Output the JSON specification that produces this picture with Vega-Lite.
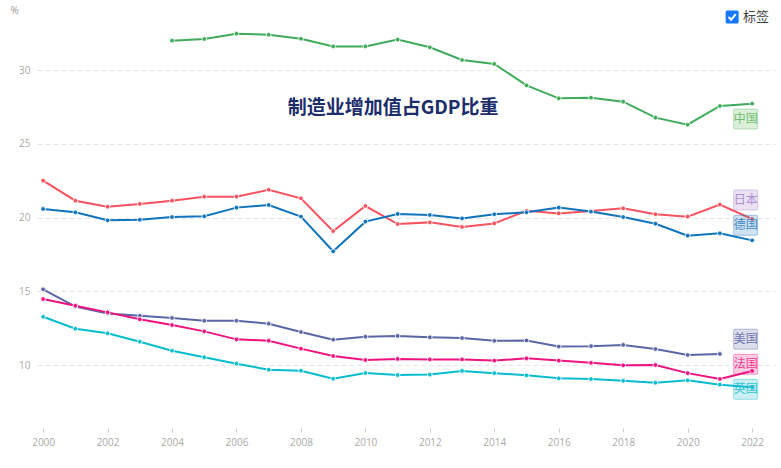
{
  "$schema": "https://vega.github.io/schema/vega-lite/v6.json",
  "autosize": "none",
  "width": 738,
  "height": 408,
  "padding": {"left": 37, "top": 20, "right": 6, "bottom": 40},
  "background": "white",
  "config": {"view": {"stroke": null}, "font": "Open Sans"},
  "datasets": {
    "series": [
      {"country": "中国", "year": 2004, "value": 31.99},
      {"country": "中国", "year": 2005, "value": 32.1},
      {"country": "中国", "year": 2006, "value": 32.46},
      {"country": "中国", "year": 2007, "value": 32.39},
      {"country": "中国", "year": 2008, "value": 32.12},
      {"country": "中国", "year": 2009, "value": 31.6},
      {"country": "中国", "year": 2010, "value": 31.6},
      {"country": "中国", "year": 2011, "value": 32.06},
      {"country": "中国", "year": 2012, "value": 31.54},
      {"country": "中国", "year": 2013, "value": 30.68},
      {"country": "中国", "year": 2014, "value": 30.41},
      {"country": "中国", "year": 2015, "value": 28.96},
      {"country": "中国", "year": 2016, "value": 28.08},
      {"country": "中国", "year": 2017, "value": 28.12},
      {"country": "中国", "year": 2018, "value": 27.85},
      {"country": "中国", "year": 2019, "value": 26.77},
      {"country": "中国", "year": 2020, "value": 26.29},
      {"country": "中国", "year": 2021, "value": 27.56},
      {"country": "中国", "year": 2022, "value": 27.72},
      {"country": "日本", "year": 2000, "value": 22.5},
      {"country": "日本", "year": 2001, "value": 21.14},
      {"country": "日本", "year": 2002, "value": 20.73},
      {"country": "日本", "year": 2003, "value": 20.92},
      {"country": "日本", "year": 2004, "value": 21.14},
      {"country": "日本", "year": 2005, "value": 21.41},
      {"country": "日本", "year": 2006, "value": 21.41},
      {"country": "日本", "year": 2007, "value": 21.88},
      {"country": "日本", "year": 2008, "value": 21.3},
      {"country": "日本", "year": 2009, "value": 19.08},
      {"country": "日本", "year": 2010, "value": 20.78},
      {"country": "日本", "year": 2011, "value": 19.56},
      {"country": "日本", "year": 2012, "value": 19.67},
      {"country": "日本", "year": 2013, "value": 19.36},
      {"country": "日本", "year": 2014, "value": 19.6},
      {"country": "日本", "year": 2015, "value": 20.46},
      {"country": "日本", "year": 2016, "value": 20.28},
      {"country": "日本", "year": 2017, "value": 20.44},
      {"country": "日本", "year": 2018, "value": 20.62},
      {"country": "日本", "year": 2019, "value": 20.22},
      {"country": "日本", "year": 2020, "value": 20.06},
      {"country": "日本", "year": 2021, "value": 20.87},
      {"country": "日本", "year": 2022, "value": 19.9},
      {"country": "德国", "year": 2000, "value": 20.58},
      {"country": "德国", "year": 2001, "value": 20.35},
      {"country": "德国", "year": 2002, "value": 19.81},
      {"country": "德国", "year": 2003, "value": 19.85},
      {"country": "德国", "year": 2004, "value": 20.03},
      {"country": "德国", "year": 2005, "value": 20.08},
      {"country": "德国", "year": 2006, "value": 20.67},
      {"country": "德国", "year": 2007, "value": 20.85},
      {"country": "德国", "year": 2008, "value": 20.06},
      {"country": "德国", "year": 2009, "value": 17.71},
      {"country": "德国", "year": 2010, "value": 19.72},
      {"country": "德国", "year": 2011, "value": 20.24},
      {"country": "德国", "year": 2012, "value": 20.17},
      {"country": "德国", "year": 2013, "value": 19.94},
      {"country": "德国", "year": 2014, "value": 20.22},
      {"country": "德国", "year": 2015, "value": 20.35},
      {"country": "德国", "year": 2016, "value": 20.67},
      {"country": "德国", "year": 2017, "value": 20.4},
      {"country": "德国", "year": 2018, "value": 20.03},
      {"country": "德国", "year": 2019, "value": 19.58},
      {"country": "德国", "year": 2020, "value": 18.77},
      {"country": "德国", "year": 2021, "value": 18.93},
      {"country": "德国", "year": 2022, "value": 18.45},
      {"country": "美国", "year": 2000, "value": 15.13},
      {"country": "美国", "year": 2001, "value": 13.96},
      {"country": "美国", "year": 2002, "value": 13.5},
      {"country": "美国", "year": 2003, "value": 13.34},
      {"country": "美国", "year": 2004, "value": 13.19},
      {"country": "美国", "year": 2005, "value": 13.0},
      {"country": "美国", "year": 2006, "value": 13.0},
      {"country": "美国", "year": 2007, "value": 12.8},
      {"country": "美国", "year": 2008, "value": 12.24},
      {"country": "美国", "year": 2009, "value": 11.72},
      {"country": "美国", "year": 2010, "value": 11.92},
      {"country": "美国", "year": 2011, "value": 11.97},
      {"country": "美国", "year": 2012, "value": 11.88},
      {"country": "美国", "year": 2013, "value": 11.83},
      {"country": "美国", "year": 2014, "value": 11.64},
      {"country": "美国", "year": 2015, "value": 11.66},
      {"country": "美国", "year": 2016, "value": 11.25},
      {"country": "美国", "year": 2017, "value": 11.28},
      {"country": "美国", "year": 2018, "value": 11.36},
      {"country": "美国", "year": 2019, "value": 11.08},
      {"country": "美国", "year": 2020, "value": 10.68},
      {"country": "美国", "year": 2021, "value": 10.75},
      {"country": "法国", "year": 2000, "value": 14.47},
      {"country": "法国", "year": 2001, "value": 14.02},
      {"country": "法国", "year": 2002, "value": 13.57},
      {"country": "法国", "year": 2003, "value": 13.1},
      {"country": "法国", "year": 2004, "value": 12.71},
      {"country": "法国", "year": 2005, "value": 12.28},
      {"country": "法国", "year": 2006, "value": 11.74},
      {"country": "法国", "year": 2007, "value": 11.65},
      {"country": "法国", "year": 2008, "value": 11.11},
      {"country": "法国", "year": 2009, "value": 10.61},
      {"country": "法国", "year": 2010, "value": 10.34},
      {"country": "法国", "year": 2011, "value": 10.41},
      {"country": "法国", "year": 2012, "value": 10.38},
      {"country": "法国", "year": 2013, "value": 10.38},
      {"country": "法国", "year": 2014, "value": 10.3},
      {"country": "法国", "year": 2015, "value": 10.45},
      {"country": "法国", "year": 2016, "value": 10.3},
      {"country": "法国", "year": 2017, "value": 10.15},
      {"country": "法国", "year": 2018, "value": 9.98},
      {"country": "法国", "year": 2019, "value": 10.0},
      {"country": "法国", "year": 2020, "value": 9.45},
      {"country": "法国", "year": 2021, "value": 9.05},
      {"country": "法国", "year": 2022, "value": 9.6},
      {"country": "英国", "year": 2000, "value": 13.27},
      {"country": "英国", "year": 2001, "value": 12.46},
      {"country": "英国", "year": 2002, "value": 12.15},
      {"country": "英国", "year": 2003, "value": 11.58},
      {"country": "英国", "year": 2004, "value": 10.97},
      {"country": "英国", "year": 2005, "value": 10.52},
      {"country": "英国", "year": 2006, "value": 10.09},
      {"country": "英国", "year": 2007, "value": 9.68},
      {"country": "英国", "year": 2008, "value": 9.61},
      {"country": "英国", "year": 2009, "value": 9.07},
      {"country": "英国", "year": 2010, "value": 9.46},
      {"country": "英国", "year": 2011, "value": 9.32},
      {"country": "英国", "year": 2012, "value": 9.35},
      {"country": "英国", "year": 2013, "value": 9.6},
      {"country": "英国", "year": 2014, "value": 9.45},
      {"country": "英国", "year": 2015, "value": 9.3},
      {"country": "英国", "year": 2016, "value": 9.1},
      {"country": "英国", "year": 2017, "value": 9.05},
      {"country": "英国", "year": 2018, "value": 8.93},
      {"country": "英国", "year": 2019, "value": 8.8},
      {"country": "英国", "year": 2020, "value": 8.96},
      {"country": "英国", "year": 2021, "value": 8.67},
      {"country": "英国", "year": 2022, "value": 8.5}
    ],
    "labels": [
      {"country": "中国", "year": 2021.8, "value": 26.68},
      {"country": "日本", "year": 2021.8, "value": 21.19},
      {"country": "德国", "year": 2021.8, "value": 19.47},
      {"country": "美国", "year": 2021.8, "value": 11.75},
      {"country": "法国", "year": 2021.8, "value": 10.05},
      {"country": "英国", "year": 2021.8, "value": 8.35}
    ],
    "one": [{"item": "annotation"}]
  },
  "resolve": {"scale": {"color": "independent"}},
  "layer": [
    {
      "data": {"name": "series"},
      "mark": {
        "type": "line",
        "strokeWidth": 2,
        "point": {"filled": true, "size": 22, "stroke": "white", "strokeWidth": 0.8}
      },
      "encoding": {
        "x": {
          "field": "year",
          "type": "quantitative",
          "scale": {"domain": [1999.81, 2022.71], "nice": false, "zero": false},
          "axis": {
            "values": [2000, 2002, 2004, 2006, 2008, 2010, 2012, 2014, 2016, 2018, 2020, 2022],
            "format": "d",
            "title": null,
            "grid": false,
            "domain": false,
            "ticks": true,
            "tickSize": 4,
            "tickColor": "#cccccc",
            "labelColor": "#aaaaaa",
            "labelFontSize": 10,
            "labelPadding": 5,
            "labelFont": "Open Sans"
          }
        },
        "y": {
          "field": "value",
          "type": "quantitative",
          "scale": {"domain": [5.73, 33.39], "nice": false, "zero": false},
          "axis": {
            "values": [10, 15, 20, 25, 30],
            "title": "%",
            "titleAngle": 0,
            "titleX": -27,
            "titleY": -10,
            "titleAlign": "left",
            "titleBaseline": "middle",
            "titleColor": "#999999",
            "titleFontSize": 10,
            "titleFontWeight": "normal",
            "titleFont": "Open Sans",
            "domain": false,
            "ticks": false,
            "labelPadding": 7,
            "labelColor": "#aaaaaa",
            "labelFontSize": 10,
            "labelFont": "Open Sans",
            "grid": true,
            "gridColor": "#e3e3e3",
            "gridDash": [4, 4],
            "gridWidth": 1
          }
        },
        "color": {
          "field": "country",
          "type": "nominal",
          "scale": {
            "domain": ["中国", "日本", "德国", "美国", "法国", "英国"],
            "range": ["#3fab5b", "#f7525f", "#0f74bc", "#5a66a5", "#f0127f", "#06bccf"]
          },
          "legend": null
        }
      }
    },
    {
      "data": {"name": "labels"},
      "mark": {
        "type": "point",
        "shape": "M-1.2,-0.85 Q-1.2,-1 -1.05,-1 L1.05,-1 Q1.2,-1 1.2,-0.85 L1.2,0.85 Q1.2,1 1.05,1 L-1.05,1 Q-1.2,1 -1.2,0.85 Z",
        "size": 400,
        "filled": true,
        "fillOpacity": 0.22,
        "strokeOpacity": 0.4,
        "strokeWidth": 1,
        "opacity": 1
      },
      "encoding": {
        "x": {"field": "year", "type": "quantitative"},
        "y": {"field": "value", "type": "quantitative"},
        "color": {
          "field": "country",
          "type": "nominal",
          "scale": {
            "domain": ["中国", "日本", "德国", "美国", "法国", "英国"],
            "range": ["#5cb85c", "#a57fc9", "#2a7cc0", "#5b65a5", "#ee1c84", "#14bccd"]
          },
          "legend": null
        },
        "stroke": {
          "field": "country",
          "type": "nominal",
          "scale": {
            "domain": ["中国", "日本", "德国", "美国", "法国", "英国"],
            "range": ["#5cb85c", "#a57fc9", "#2a7cc0", "#5b65a5", "#ee1c84", "#14bccd"]
          },
          "legend": null
        }
      }
    },
    {
      "data": {"name": "labels"},
      "mark": {"type": "text", "font": "Noto Sans CJK SC", "fontSize": 12, "align": "center", "baseline": "middle", "opacity": 0.85},
      "encoding": {
        "x": {"field": "year", "type": "quantitative"},
        "y": {"field": "value", "type": "quantitative"},
        "text": {"field": "country"},
        "color": {
          "field": "country",
          "type": "nominal",
          "scale": {
            "domain": ["中国", "日本", "德国", "美国", "法国", "英国"],
            "range": ["#5cb85c", "#a57fc9", "#2a7cc0", "#5b65a5", "#ee1c84", "#14bccd"]
          },
          "legend": null
        }
      }
    },
    {
      "data": {"name": "one"},
      "mark": {"type": "text", "text": "制造业增加值占GDP比重", "font": "Noto Sans CJK SC", "fontSize": 19, "fontWeight": "bold", "color": "#1b2d6b", "align": "center", "baseline": "middle"},
      "encoding": {
        "x": {"datum": 2010.86, "type": "quantitative"},
        "y": {"datum": 27.42, "type": "quantitative"}
      }
    },
    {
      "data": {"name": "one"},
      "mark": {
        "type": "point",
        "shape": "M-1,-0.75 Q-1,-1 -0.75,-1 L0.75,-1 Q1,-1 1,-0.75 L1,0.75 Q1,1 0.75,1 L-0.75,1 Q-1,1 -1,0.75 Z",
        "size": 169,
        "filled": true,
        "color": "#1677ff",
        "opacity": 1
      },
      "encoding": {
        "x": {"datum": 2021.38, "type": "quantitative"},
        "y": {"datum": 33.59, "type": "quantitative"}
      }
    },
    {
      "data": {"name": "one"},
      "mark": {
        "type": "point",
        "shape": "M-0.55,0 L-0.15,0.42 L0.55,-0.45",
        "size": 169,
        "filled": false,
        "stroke": "white",
        "strokeWidth": 2,
        "opacity": 1
      },
      "encoding": {
        "x": {"datum": 2021.38, "type": "quantitative"},
        "y": {"datum": 33.59, "type": "quantitative"}
      }
    },
    {
      "data": {"name": "one"},
      "mark": {"type": "text", "text": "标签", "font": "Noto Sans CJK SC", "fontSize": 13, "color": "#444444", "align": "left", "baseline": "middle"},
      "encoding": {
        "x": {"datum": 2021.72, "type": "quantitative"},
        "y": {"datum": 33.59, "type": "quantitative"}
      }
    }
  ]
}
